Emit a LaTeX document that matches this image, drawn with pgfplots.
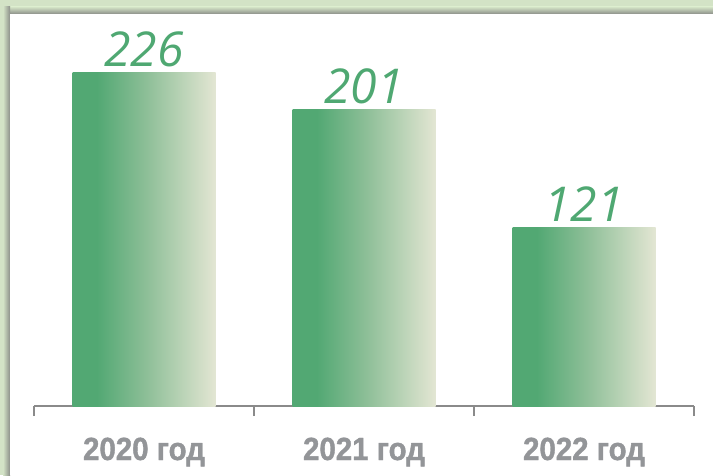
\documentclass[border=0pt]{standalone}
\usepackage{fontspec}
\setmainfont{Liberation Sans}
\newfontfamily\numfont{Open Sans}
\newfontfamily\labfont{Liberation Sans}[FakeStretch=0.92, FakeBold=1.2]
\usepackage{pgfplots}
\pgfplotsset{compat=1.18}
\definecolor{bggreen}{HTML}{D3E3C6}
\definecolor{shadowgray}{HTML}{8C8F89}
\definecolor{bargreen}{HTML}{52A873}
\definecolor{barmid}{HTML}{8EBF98}
\definecolor{barcream}{HTML}{E3E6D3}
\definecolor{numgreen}{HTML}{4FA872}
\definecolor{labgray}{HTML}{939598}
\definecolor{axgray}{HTML}{8A8A8A}
\pgfdeclarehorizontalshading{barshade}{100bp}{color(0bp)=(bargreen); color(25bp)=(bargreen); color(33.5bp)=(bargreen); color(51bp)=(barmid); color(75bp)=(barcream); color(100bp)=(barcream)}
\begin{document}
\begin{tikzpicture}
\path[use as bounding box] (0pt,0pt) rectangle (713pt,475pt);
\fill[bggreen] (0pt,0pt) rectangle (713pt,475pt);
\shade[top color=bggreen, bottom color=shadowgray] (4pt,461pt) rectangle (713pt,468pt);
\shade[left color=bggreen, right color=shadowgray] (3pt,0pt) rectangle (10pt,468pt);
\fill[white] (10pt,0pt) rectangle (713pt,461pt);
\begin{axis}[
  at={(34pt,69pt)}, anchor=south west,
  scale only axis, width=660pt, height=392pt,
  xmin=-0.5, xmax=2.5, ymin=0, ymax=266,
  axis y line=none, axis x line*=bottom,
  x axis line style={-, axgray, line width=1.2pt},
  xtick={0,1,2},
  xticklabels={2020 год,2021 год,2022 год},
  minor xtick={-0.5,0.5,1.5,2.5},
  major tick length=0pt, minor tick length=10pt,
  tick align=outside,
  tick style={axgray, line width=1.2pt},
  xticklabel style={font=\labfont\bfseries\fontsize{32}{32}\selectfont, text=labgray, anchor=base, yshift=-54pt},
  ybar, bar width=143pt, bar shift=0pt,
  /pgf/number format/assume math mode=true,
  nodes near coords,
  nodes near coords style={font=\numfont\itshape\fontsize{48}{48}\selectfont, text=numgreen, anchor=base, inner sep=0pt, yshift=6pt},
  clip=false,
]
\addplot[draw=none, shade, shading=barshade] coordinates {(0,226)};
\addplot[draw=none, shade, shading=barshade] coordinates {(1,201)};
\addplot[draw=none, shade, shading=barshade] coordinates {(2,121)};
\end{axis}
\end{tikzpicture}
\end{document}
